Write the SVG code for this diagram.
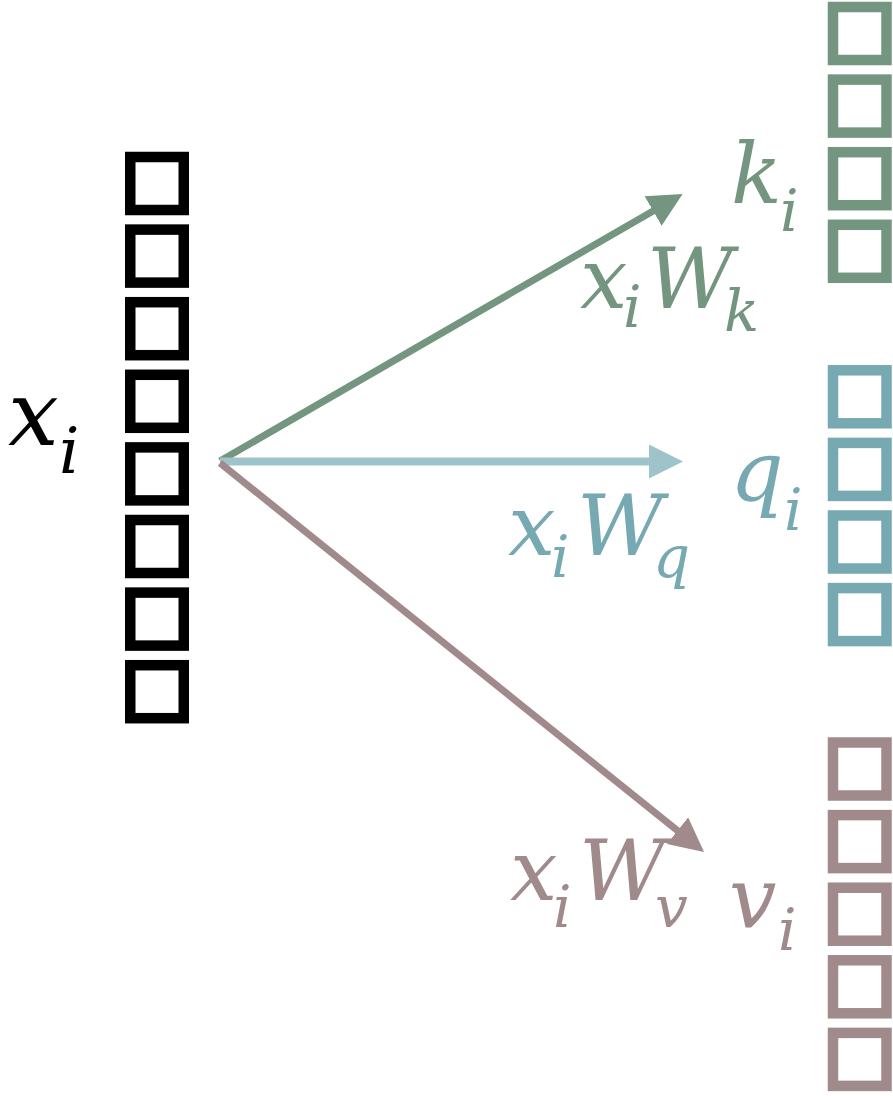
<svg xmlns="http://www.w3.org/2000/svg" width="893" height="1096" viewBox="0 0 893 1096">
<style>
.box{fill:none;stroke-width:10.5}
.blk{stroke:#000}
.grn{stroke:#74957f}
.tel{stroke:#77a9b3}
.mav{stroke:#a08a8b}
.lbl{font-family:"DejaVu Serif",serif;font-style:italic;font-size:84px}
.sub{font-size:58px}
.tg{fill:#74957f}
.tt{fill:#77a9b3}
.tm{fill:#a08a8b}
.conn{fill:none}
</style>
<defs>
<marker id="hg" markerUnits="userSpaceOnUse" markerWidth="34" markerHeight="34" refX="1" refY="17" orient="auto" viewBox="0 0 34 34"><path d="M0,0 L34,17 L0,34 Z" fill="#74957f"/></marker>
<marker id="ht" markerUnits="userSpaceOnUse" markerWidth="34" markerHeight="34" refX="1" refY="17" orient="auto" viewBox="0 0 34 34"><path d="M0,0 L34,17 L0,34 Z" fill="#9fc3ca"/></marker>
<marker id="hm" markerUnits="userSpaceOnUse" markerWidth="34" markerHeight="34" refX="1" refY="17" orient="auto" viewBox="0 0 34 34"><path d="M0,0 L34,17 L0,34 Z" fill="#a08a8b"/></marker>
</defs>
<rect width="893" height="1096" fill="#fff"/>

<g id="x-vector">
<rect class="box blk" x="130.25" y="157" width="53.5" height="53"/>
<rect class="box blk" x="130.25" y="229.6" width="53.5" height="53"/>
<rect class="box blk" x="130.25" y="302.2" width="53.5" height="53"/>
<rect class="box blk" x="130.25" y="374.8" width="53.5" height="53"/>
<rect class="box blk" x="130.25" y="447.4" width="53.5" height="53"/>
<rect class="box blk" x="130.25" y="520" width="53.5" height="53"/>
<rect class="box blk" x="130.25" y="592.6" width="53.5" height="53"/>
<rect class="box blk" x="130.25" y="665.2" width="53.5" height="53"/>
<text class="lbl" style="font-size:90px" x="8" y="445" fill="#000">x<tspan style="font-size:64px" x="59" y="473">i</tspan></text>
</g>

<g id="k-vector">
<rect class="box grn" x="833" y="7" width="53.5" height="53"/>
<rect class="box grn" x="833" y="79.6" width="53.5" height="53"/>
<rect class="box grn" x="833" y="152.2" width="53.5" height="53"/>
<rect class="box grn" x="833" y="224.8" width="53.5" height="53"/>
<text class="lbl tg" x="731" y="203">k<tspan class="sub" x="780" y="231">i</tspan></text>
</g>

<g id="q-vector">
<rect class="box tel" x="833" y="370.3" width="53.5" height="53"/>
<rect class="box tel" x="833" y="442.9" width="53.5" height="53"/>
<rect class="box tel" x="833" y="515.5" width="53.5" height="53"/>
<rect class="box tel" x="833" y="588.1" width="53.5" height="53"/>
<text class="lbl tt" x="730" y="500">q<tspan class="sub" x="784" y="530">i</tspan></text>
</g>

<g id="v-vector">
<rect class="box mav" x="833" y="742.5" width="53.5" height="53"/>
<rect class="box mav" x="833" y="815.1" width="53.5" height="53"/>
<rect class="box mav" x="833" y="887.7" width="53.5" height="53"/>
<rect class="box mav" x="833" y="960.3" width="53.5" height="53"/>
<rect class="box mav" x="833" y="1032.9" width="53.5" height="53"/>
<text class="lbl tm" x="729" y="927">v<tspan class="sub" x="778" y="950">i</tspan></text>
</g>

<g id="connectors">
<line class="conn" x1="220" y1="461" x2="654" y2="210.5" stroke="#74957f" stroke-width="7" marker-end="url(#hg)"/>
<line class="conn" x1="220" y1="461.5" x2="650" y2="461.5" stroke="#9fc3ca" stroke-width="8" marker-end="url(#ht)"/>
<line class="conn" x1="220" y1="463" x2="678.3" y2="831.3" stroke="#a08a8b" stroke-width="7" marker-end="url(#hm)"/>
<text class="lbl tg" x="580" y="308">x<tspan class="sub" x="623" y="327">i</tspan><tspan x="647" y="308">W</tspan><tspan class="sub" x="724" y="331">k</tspan></text>
<text class="lbl tt" x="508" y="555">x<tspan class="sub" x="551" y="577">i</tspan><tspan x="577" y="555">W</tspan><tspan class="sub" x="653" y="577">q</tspan></text>
<text class="lbl tm" x="510" y="900">x<tspan class="sub" x="553" y="927">i</tspan><tspan x="579" y="900">W</tspan><tspan class="sub" x="655" y="927">v</tspan></text>
</g>
</svg>
